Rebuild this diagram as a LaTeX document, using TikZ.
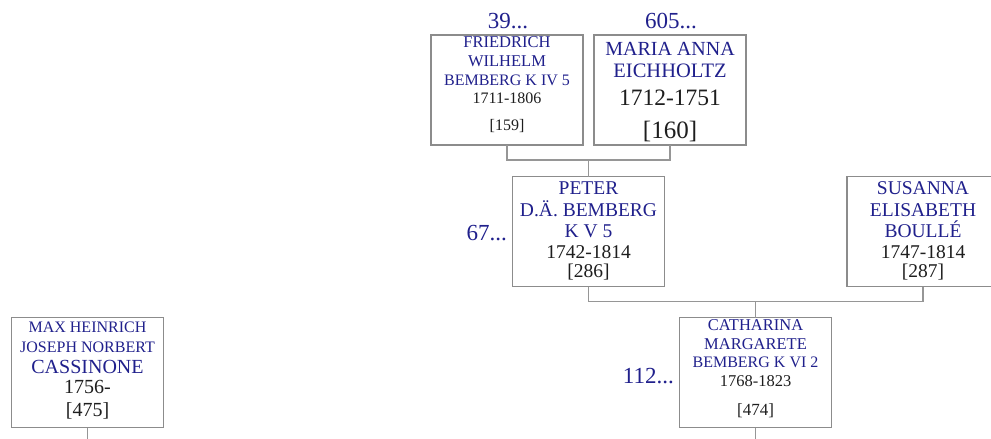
\documentclass[tikz,border=0pt]{standalone}
\usepackage{fontspec}
\setmainfont{Liberation Serif}
\definecolor{nameblue}{RGB}{32,32,140}
\definecolor{textdark}{RGB}{30,30,30}
\definecolor{boxgray}{RGB}{140,140,140}
\definecolor{linegray}{RGB}{150,150,150}
\newcommand{\fs}[1]{\fontsize{#1}{#1}\selectfont}
\tikzset{
  person/.style={draw=boxgray, line width=1.3pt, minimum width=152pt, minimum height=110pt, inner sep=0pt, outer sep=0pt, fill=white},
  nm/.style={anchor=base, inner sep=0pt, text=nameblue},
  dt/.style={anchor=base, inner sep=0pt, text=textdark},
  lbl/.style={anchor=base, inner sep=0pt, text=nameblue},
  conn/.style={draw=linegray, line width=1.3pt}
}
\begin{document}
\begin{tikzpicture}[x=1pt,y=-1pt]
\useasboundingbox (0,0) rectangle (991,439);
% boxes
\node[person] (fr) at (507,90) {};
\node[person] (ma) at (670,90) {};
\node[person] (pe) at (588.5,231.5) {};
\node[person] (su) at (923,231.5) {};
\node[person] (ca) at (755.5,372.5) {};
\node[person] (mx) at (87.5,372.5) {};
% connectors
\coordinate (j1) at (588.5,160);
\coordinate (j2) at (755.5,301.5);
\coordinate (e1) at (755.5,440);
\coordinate (e2) at (87.5,440);
\draw[conn] (fr.south) |- (j1) -| (ma.south);
\draw[conn] (j1) -- (pe.north);
\draw[conn] (pe.south) |- (j2) -| (su.south);
\draw[conn] (j2) -- (ca.north);
\draw[conn] (ca.south) -- (e1);
\draw[conn] (mx.south) -- (e2);
% labels
\node[lbl, font=\fs{23}] (l39) at (508,28) {39...};
\node[lbl, font=\fs{23}] (l605) at (671,28) {605...};
\node[lbl, font=\fs{23}, anchor=base east] (l67) at (507,240) {67...};
\node[lbl, font=\fs{23}, anchor=base east] (l112) at (674,383) {112...};
% Friedrich
\node[nm, font=\fs{16.5}] (fr1) at (507,47) {FRIEDRICH};
\node[nm, font=\fs{16.5}] (fr2) at (507,66) {WILHELM};
\node[nm, font=\fs{16}] (fr3) at (507,85) {BEMBERG K IV 5};
\node[dt, font=\fs{16}] (fr4) at (507,103) {1711-1806};
\node[dt, font=\fs{16}] (fr5) at (507,130) {[159]};
% Maria
\node[nm, font=\fs{20}] (ma1) at (670,55) {MARIA ANNA};
\node[nm, font=\fs{20.5}] (ma2) at (670,77) {EICHHOLTZ};
\node[dt, font=\fs{23.5}] (ma3) at (670,105) {1712-1751};
\node[dt, font=\fs{25}] (ma4) at (670,138) {[160]};
% Peter
\node[nm, font=\fs{19.5}] (pe1) at (588.5,194.5) {PETER};
\node[nm, font=\fs{19.5}] (pe2) at (588.5,216) {D.Ä. BEMBERG};
\node[nm, font=\fs{19.5}] (pe3) at (588.5,237) {K V 5};
\node[dt, font=\fs{19.5}] (pe4) at (588.5,258) {1742-1814};
\node[dt, font=\fs{19.5}] (pe5) at (588.5,277.5) {[286]};
% Susanna
\node[nm, font=\fs{19.5}] (su1) at (923,194.5) {SUSANNA};
\node[nm, font=\fs{19.5}] (su2) at (923,216) {ELISABETH};
\node[nm, font=\fs{19.5}] (su3) at (923,237) {BOULLÉ};
\node[dt, font=\fs{19.5}] (su4) at (923,258) {1747-1814};
\node[dt, font=\fs{19.5}] (su5) at (923,277.5) {[287]};
% Catharina
\node[nm, font=\fs{16.5}] (ca1) at (755.5,330) {CATHARINA};
\node[nm, font=\fs{16.5}] (ca2) at (755.5,349) {MARGARETE};
\node[nm, font=\fs{16}] (ca3) at (755.5,367) {BEMBERG K VI 2};
\node[dt, font=\fs{16.5}] (ca4) at (755.5,386) {1768-1823};
\node[dt, font=\fs{17}] (ca5) at (755.5,415) {[474]};
% Max
\node[nm, font=\fs{16}] (mx1) at (87.5,332) {MAX HEINRICH};
\node[nm, font=\fs{16}] (mx2) at (87.5,352) {JOSEPH NORBERT};
\node[nm, font=\fs{20}] (mx3) at (87.5,373) {CASSINONE};
\node[dt, font=\fs{20}] (mx4) at (87.5,393) {1756-};
\node[dt, font=\fs{20}] (mx5) at (87.5,416.5) {[475]};
\end{tikzpicture}
\end{document}
